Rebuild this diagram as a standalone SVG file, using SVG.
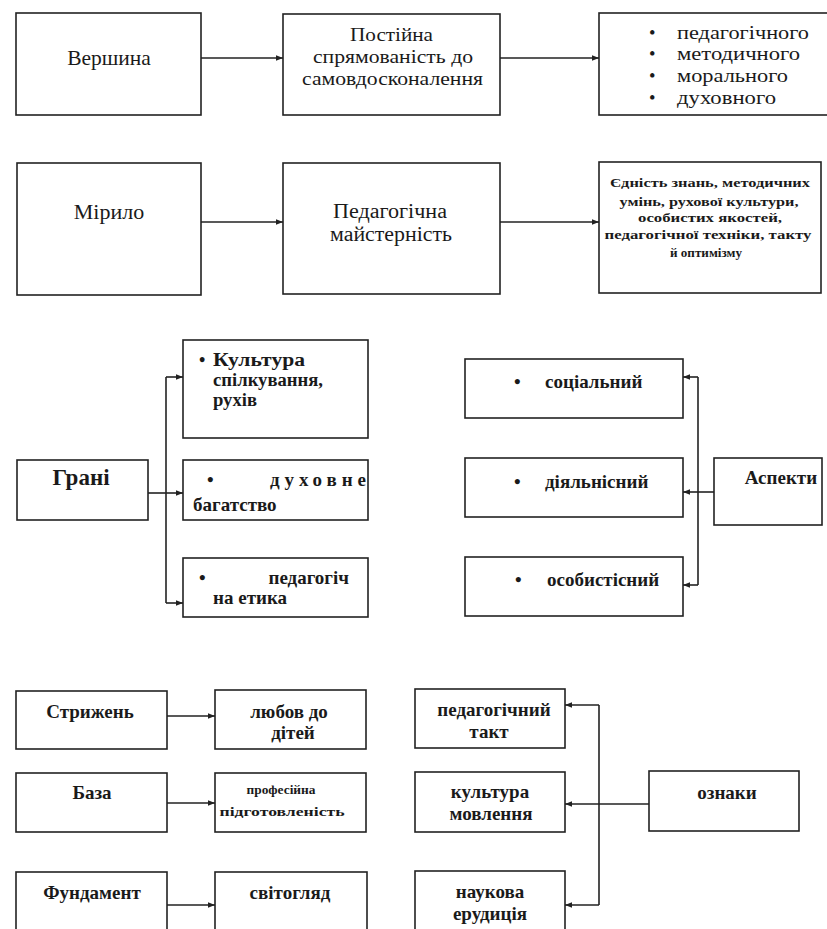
<svg xmlns="http://www.w3.org/2000/svg" width="827" height="929" viewBox="0 0 827 929">
<defs>
<marker id="arr" viewBox="0 0 10 10" refX="10" refY="5" markerWidth="7" markerHeight="7" orient="auto" markerUnits="userSpaceOnUse">
<path d="M0,1 L10,5 L0,9 Z" fill="#222"/>
</marker>
<style>
rect{fill:none;stroke:#222;stroke-width:1.6}
.c{stroke:#222;stroke-width:1.6;fill:none}
text{font-family:"Liberation Serif","Times New Roman","DejaVu Serif",serif;fill:#1a1a1a}
.big{font-size:21.5px}
.mid{font-size:22px}
.r19{font-size:19px}
.r18{font-size:18.5px}
.r20{font-size:20px}
.b{font-size:19px;font-weight:bold}
.b18{font-size:18px;font-weight:bold}
.g{font-size:23px;font-weight:bold}
.s{font-size:13px;font-weight:bold}
.m{text-anchor:middle}
</style>
</defs>
<rect x="0" y="0" width="827" height="929" style="fill:#fff;stroke:none"/>

<g id="n_vershyna"><rect x="16" y="13" width="185" height="102"/><text class="big m" x="109" y="65">Вершина</text></g>
<g id="n_postiyna"><rect x="283" y="14" width="217" height="101"/>
<text class="r19 m" x="391.5" y="41" textLength="83" lengthAdjust="spacingAndGlyphs">Постійна</text>
<text class="r19 m" x="393" y="63" textLength="160" lengthAdjust="spacingAndGlyphs">спрямованість до</text>
<text class="r19 m" x="392.5" y="85" textLength="181" lengthAdjust="spacingAndGlyphs">самовдосконалення</text></g>
<g id="n_list1"><rect x="599" y="13" width="230" height="102"/>
<text class="r18" x="649" y="39">•</text><text class="r18" x="677" y="39" textLength="132" lengthAdjust="spacingAndGlyphs">педагогічного</text>
<text class="r18" x="649" y="60">•</text><text class="r18" x="677" y="60" textLength="123" lengthAdjust="spacingAndGlyphs">методичного</text>
<text class="r18" x="649" y="82">•</text><text class="r18" x="677" y="82" textLength="111" lengthAdjust="spacingAndGlyphs">морального</text>
<text class="r18" x="649" y="104">•</text><text class="r18" x="677" y="104" textLength="99" lengthAdjust="spacingAndGlyphs">духовного</text></g>

<g id="n_mirylo"><rect x="17" y="163" width="184" height="132"/><text class="mid m" x="109" y="219">Мірило</text></g>
<g id="n_maysternist"><rect x="283" y="163" width="217" height="131"/>
<text class="r20 m" x="390" y="218" textLength="114" lengthAdjust="spacingAndGlyphs">Педагогічна</text>
<text class="r20 m" x="391" y="241" textLength="122" lengthAdjust="spacingAndGlyphs">майстерність</text></g>
<g id="n_yednist"><rect x="599" y="162" width="222" height="131"/>
<text class="s m" x="710" y="187" textLength="200" lengthAdjust="spacingAndGlyphs">Єдність знань, методичних</text>
<text class="s m" x="709" y="206" textLength="179" lengthAdjust="spacingAndGlyphs">умінь, рухової культури,</text>
<text class="s m" x="710" y="222" textLength="144" lengthAdjust="spacingAndGlyphs">особистих якостей,</text>
<text class="s m" x="708" y="239" textLength="207" lengthAdjust="spacingAndGlyphs">педагогічної техніки, такту</text>
<text class="s m" x="706" y="257" textLength="72" lengthAdjust="spacingAndGlyphs">й оптимізму</text></g>

<g id="n_grani"><rect x="17" y="460" width="131" height="60"/><text class="g m" x="81" y="485">Грані</text></g>
<g id="n_kultura"><rect x="183" y="340" width="185" height="98"/>
<text class="b18" x="199" y="366">•</text><text class="b18" x="213" y="366" textLength="92" lengthAdjust="spacingAndGlyphs">Культура</text>
<text class="b18" x="213" y="386" textLength="110" lengthAdjust="spacingAndGlyphs">спілкування,</text>
<text class="b18" x="213" y="406" textLength="44" lengthAdjust="spacingAndGlyphs">рухів</text></g>
<g id="n_dukhovne"><rect x="183" y="460" width="185" height="60"/>
<text class="b" x="207" y="486">•</text><text class="b" x="270" y="486" textLength="96" lengthAdjust="spacing">духовне</text>
<text class="b" x="193" y="511">багатство</text></g>
<g id="n_etyka"><rect x="183" y="558" width="185" height="59"/>
<text class="b" x="199" y="584">•</text><text class="b" x="349" y="584" text-anchor="end">педагогіч</text>
<text class="b" x="213" y="604">на етика</text></g>

<g id="n_social"><rect x="465" y="359" width="218" height="59"/>
<text class="b" x="514" y="388">•</text><text class="b" x="545" y="388">соціальний</text></g>
<g id="n_diyal"><rect x="465" y="458" width="218" height="59"/>
<text class="b" x="514" y="488">•</text><text class="b" x="545" y="488">діяльнісний</text></g>
<g id="n_osob"><rect x="465" y="557" width="218" height="59"/>
<text class="b" x="515" y="586">•</text><text class="b" x="547" y="586">особистісний</text></g>
<g id="n_aspekty"><rect x="714" y="458" width="108" height="67"/><text class="b m" x="781" y="484">Аспекти</text></g>

<g id="n_stryzhen"><rect x="16" y="691" width="151" height="58"/><text class="b m" x="90" y="718">Стрижень</text></g>
<g id="n_lyubov"><rect x="215" y="690" width="151" height="59"/>
<text class="b m" x="289" y="718">любов до</text><text class="b m" x="293" y="739">дітей</text></g>
<g id="n_baza"><rect x="16" y="773" width="151" height="59"/><text class="b m" x="92" y="799">База</text></g>
<g id="n_prof"><rect x="215" y="773" width="151" height="59"/>
<text class="s m" x="281" y="794" textLength="69" lengthAdjust="spacingAndGlyphs">професійна</text><text class="s m" x="282" y="816" textLength="125" lengthAdjust="spacingAndGlyphs">підготовленість</text></g>
<g id="n_fundament"><rect x="16" y="872" width="151" height="70"/><text class="b m" x="92" y="899">Фундамент</text></g>
<g id="n_svitohlyad"><rect x="215" y="872" width="152" height="70"/><text class="b m" x="290" y="899">світогляд</text></g>

<g id="n_takt"><rect x="415" y="689" width="150" height="59"/>
<text class="b m" x="494" y="716">педагогічний</text><text class="b m" x="489" y="738">такт</text></g>
<g id="n_movlennya"><rect x="415" y="772" width="150" height="60"/>
<text class="b m" x="490" y="798">культура</text><text class="b m" x="491" y="820">мовлення</text></g>
<g id="n_erudytsiya"><rect x="415" y="871" width="150" height="70"/>
<text class="b m" x="490" y="898">наукова</text><text class="b m" x="490" y="920">ерудиція</text></g>
<g id="n_oznaky"><rect x="649" y="771" width="150" height="60"/><text class="b m" x="727" y="799">ознаки</text></g>

<g id="connectors">
<line class="c" x1="201" y1="58" x2="283" y2="58" marker-end="url(#arr)"/>
<line class="c" x1="500" y1="58" x2="599" y2="58" marker-end="url(#arr)"/>
<line class="c" x1="201" y1="222" x2="283" y2="222" marker-end="url(#arr)"/>
<line class="c" x1="500" y1="222" x2="599" y2="222" marker-end="url(#arr)"/>

<polyline class="c" points="148,493 166,493"/>
<line class="c" x1="166" y1="377" x2="166" y2="603"/>
<line class="c" x1="166" y1="377" x2="183" y2="377" marker-end="url(#arr)"/>
<line class="c" x1="166" y1="493" x2="183" y2="493" marker-end="url(#arr)"/>
<line class="c" x1="166" y1="603" x2="183" y2="603" marker-end="url(#arr)"/>

<polyline class="c" points="714,492 698,492"/>
<line class="c" x1="698" y1="377" x2="698" y2="585"/>
<line class="c" x1="698" y1="377" x2="683" y2="377" marker-end="url(#arr)"/>
<line class="c" x1="698" y1="492" x2="683" y2="492" marker-end="url(#arr)"/>
<line class="c" x1="698" y1="585" x2="683" y2="585" marker-end="url(#arr)"/>

<line class="c" x1="167" y1="716" x2="215" y2="716" marker-end="url(#arr)"/>
<line class="c" x1="167" y1="803" x2="215" y2="803" marker-end="url(#arr)"/>
<line class="c" x1="167" y1="905" x2="215" y2="905" marker-end="url(#arr)"/>

<polyline class="c" points="649,804 599,804"/>
<line class="c" x1="599" y1="705" x2="599" y2="905"/>
<line class="c" x1="599" y1="705" x2="565" y2="705" marker-end="url(#arr)"/>
<line class="c" x1="599" y1="804" x2="565" y2="804" marker-end="url(#arr)"/>
<line class="c" x1="599" y1="905" x2="565" y2="905" marker-end="url(#arr)"/>
</g>
</svg>
